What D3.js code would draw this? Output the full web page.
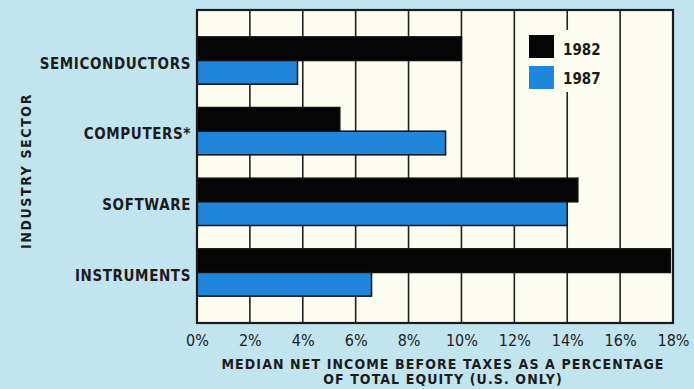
<!DOCTYPE html>
<html>
<head>
<meta charset="utf-8">
<script src="https://cdn.jsdelivr.net/npm/d3@7/dist/d3.min.js"></script>
<style>
  body { margin: 0; background: #c2e4ef; }
  svg { display: block; }
  text { font-family: "Liberation Sans Narrow", "DejaVu Sans Condensed", "Liberation Sans", sans-serif; fill: #1c1c1c; }
</style>
</head>
<body>
<script>

// data
var categories = ["SEMICONDUCTORS", "COMPUTERS*", "SOFTWARE", "INSTRUMENTS"]
var years = ["1982", "1987"]
var values1982 = [10.0, 5.4, 14.4, 17.9]
var values1987 = [3.8, 9.4, 14.0, 6.6]
var xTicks = [0, 2, 4, 6, 8, 10, 12, 14, 16, 18]

var rows = categories.map(function (c, i) {
    return { cat: c, "1982": values1982[i], "1987": values1987[i] }
})

// Setup size.
var W = 694, H = 389
var plot = { left: 197, right: 673, top: 10, bottom: 323 }

var colors = { "1982": "#050505", "1987": "#1f86dc" }

var svg = d3.select("body").append("svg")
    .attr("width", W)
    .attr("height", H)

svg.append("rect")
    .attr("width", W).attr("height", H)
    .attr("fill", "#c2e4ef")

var x = d3.scaleLinear().domain([0, 18]).range([plot.left, plot.right])
var y = d3.scaleBand().domain(categories).range([plot.top, plot.bottom])
    .paddingInner(0.33).paddingOuter(0.38)
var ySub = d3.scaleBand().domain(years).range([0, y.bandwidth()])

// plot background
svg.append("rect")
    .attr("x", plot.left).attr("y", plot.top)
    .attr("width", plot.right - plot.left)
    .attr("height", plot.bottom - plot.top)
    .attr("fill", "#fdfcf0")

// vertical grid lines
svg.append("g").selectAll("line")
    .data(xTicks.slice(1, -1))
    .join("line")
    .attr("x1", function (d) { return x(d) }).attr("x2", function (d) { return x(d) })
    .attr("y1", plot.top).attr("y2", plot.bottom)
    .attr("stroke", "#222").attr("stroke-width", 1.6)

// bars
var groups = svg.append("g").selectAll("g")
    .data(rows)
    .join("g")
    .attr("transform", function (d) { return "translate(0," + y(d.cat) + ")" })

groups.selectAll("rect")
    .data(function (d) { return years.map(function (k) { return { key: k, value: d[k] } }) })
    .join("rect")
    .attr("x", x(0))
    .attr("y", function (d) { return ySub(d.key) })
    .attr("width", function (d) { return x(d.value) - x(0) })
    .attr("height", ySub.bandwidth())
    .attr("fill", function (d) { return colors[d.key] })
    .attr("stroke", "#111").attr("stroke-width", 1.5)

// frame
svg.append("rect")
    .attr("x", plot.left).attr("y", plot.top)
    .attr("width", plot.right - plot.left)
    .attr("height", plot.bottom - plot.top)
    .attr("fill", "none")
    .attr("stroke", "#1a1a1a").attr("stroke-width", 2.2)

// category labels
svg.append("g").selectAll("text")
    .data(categories)
    .join("text")
    .attr("x", plot.left - 6)
    .attr("y", function (d) { return y(d) + y.bandwidth() / 2 + 3 })
    .attr("dy", "0.35em")
    .attr("text-anchor", "end")
    .style("font-size", "15px")
    .style("font-weight", "bold")
    .style("letter-spacing", "0.6px")
    .text(function (d) { return d })

// x axis tick labels
var xAxis = d3.axisBottom(x).tickValues(xTicks).tickSize(0).tickPadding(0)
    .tickFormat(function (d) { return d + "%" })
var gx = svg.append("g")
    .attr("transform", "translate(0," + (plot.bottom + 9) + ")")
    .call(xAxis)
gx.select(".domain").remove()
gx.selectAll("text")
    .attr("dy", "0.9em")
    .style("font-size", "16px")
    .style("font-family", "\"Liberation Sans Narrow\", \"DejaVu Sans Condensed\", sans-serif")
    .attr("fill", "#2a2a2a")

// x title
svg.append("text")
    .attr("x", 443).attr("y", 369)
    .attr("text-anchor", "middle")
    .style("font-size", "14px").style("font-weight", "bold")
    .style("letter-spacing", "1.1px")
    .text("MEDIAN NET INCOME BEFORE TAXES AS A PERCENTAGE")
svg.append("text")
    .attr("x", 443).attr("y", 384)
    .attr("text-anchor", "middle")
    .style("font-size", "14px").style("font-weight", "bold")
    .style("letter-spacing", "1.1px")
    .text("OF TOTAL EQUITY (U.S. ONLY)")

// y title
svg.append("text")
    .attr("transform", "translate(31,171) rotate(-90)")
    .attr("text-anchor", "middle")
    .style("font-size", "14px").style("font-weight", "bold")
    .style("letter-spacing", "1.6px")
    .text("INDUSTRY SECTOR")

// legend
var lg = svg.append("g").attr("transform", "translate(524,30)")
lg.append("rect")
    .attr("x", 0).attr("y", 0).attr("width", 76).attr("height", 62)
    .attr("fill", "#fdfcf0")
years.forEach(function (k, i) {
    lg.append("rect")
        .attr("x", 5).attr("y", 5 + i * 31)
        .attr("width", 25).attr("height", 23)
        .attr("fill", colors[k])
    lg.append("text")
        .attr("x", 39).attr("y", 25 + i * 29)
        .style("font-size", "15px").style("font-weight", "bold")
        .text(k)
})

</script>
</body>
</html>
